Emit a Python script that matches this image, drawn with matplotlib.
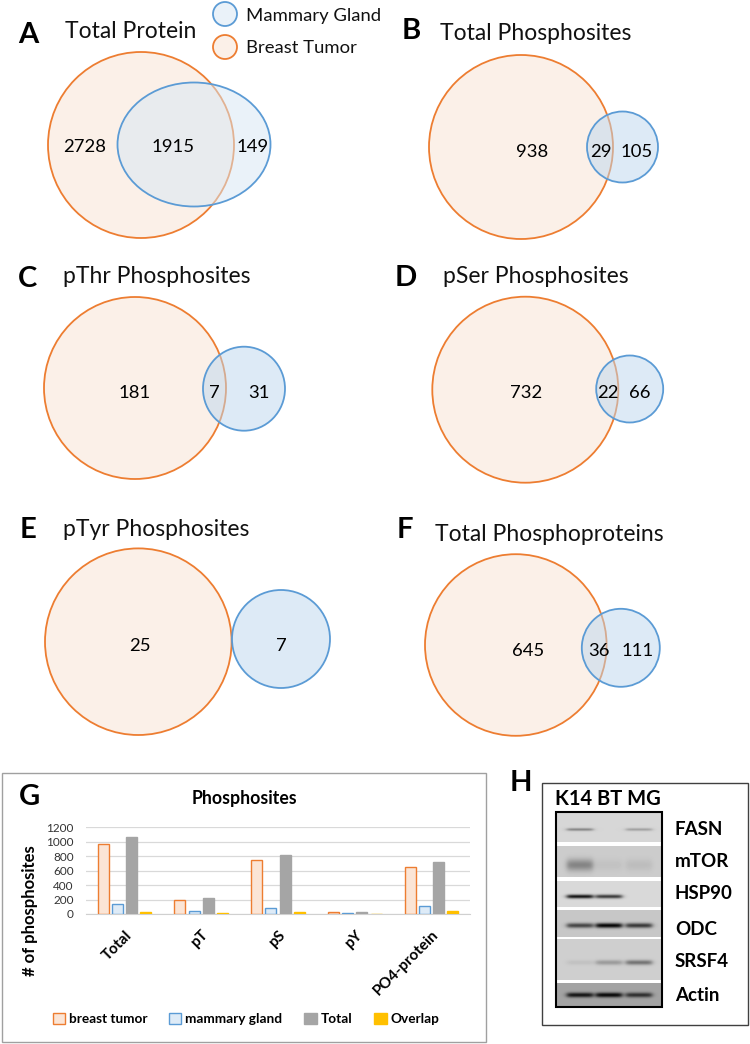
import numpy as np
import matplotlib
matplotlib.use('Agg')
import matplotlib.pyplot as plt
from matplotlib.patches import Circle, Ellipse, Rectangle

plt.rcParams['font.family'] = ['Lato', 'DejaVu Sans']

# Venn panels A-F
venn_letters = ['A', 'B', 'C', 'D', 'E', 'F']
venn_titles = ['Total Protein', 'Total Phosphosites', 'pThr Phosphosites',
               'pSer Phosphosites', 'pTyr Phosphosites', 'Total Phosphoproteins']
tumor_only = [2728, 938, 181, 732, 25, 645]
overlap = [1915, 29, 7, 22, 0, 36]
gland_only = [149, 105, 31, 66, 7, 111]
legend_names = ['Mammary Gland', 'Breast Tumor']

# Panel G bar chart
bar_categories = ['Total', 'pT', 'pS', 'pY', 'PO4-protein']
bar_series = ['breast tumor', 'mammary gland', 'Total', 'Overlap']
bt_counts = [967, 188, 754, 25, 645]
mg_counts = [134, 38, 88, 7, 111]
total_counts = [1072, 219, 820, 32, 720]
overlap_counts = [29, 7, 22, 0, 36]

# Panel H western blot (band darkness per lane, 0 = none)
blot_lanes = ['K14', 'BT', 'MG']
blot_proteins = ['FASN', 'mTOR', 'HSP90', 'ODC', 'SRSF4', 'Actin']
blot_background = [0.84, 0.80, 0.85, 0.78, 0.81, 0.64]
blot_bands = [[0.30, 0.00, 0.20],
              [0.28, 0.04, 0.06],
              [0.75, 0.60, 0.00],
              [0.50, 0.75, 0.55],
              [0.05, 0.20, 0.35],
              [0.55, 0.60, 0.45]]

# colours
tumor_edge = '#ED7D31'
tumor_fill = '#FBF0E8'
gland_edge = '#5B9BD5'

# layout in pixels (x, y from top-left)
venn_layout = [
    dict(letter=(18, 43.3), title=(65, 38.3), tumor=(141, 145, 93), gland=(194, 144.5, 153, 124),
         lab_x=(85, 173, 253), lab_y=151.7, gfill='#D7E7F5'),
    dict(letter=(402, 39.3), title=(440, 40), tumor=(521, 147, 92), gland=(622.5, 147, 71, 71),
         lab_x=(531.7, 600.7, 636.7), lab_y=157.3, gfill='#BDD7EF'),
    dict(letter=(18, 286.7), title=(63, 283.3), tumor=(135, 388, 91), gland=(244, 388.7, 82, 84),
         lab_x=(134.3, 214.3, 259.3), lab_y=398.3, gfill='#BDD7EF'),
    dict(letter=(395, 286), title=(443, 283.3), tumor=(525.3, 389.7, 93), gland=(629.7, 389, 67, 67),
         lab_x=(526, 608.3, 640), lab_y=397.7, gfill='#BDD7EF'),
    dict(letter=(20, 538.3), title=(63, 536), tumor=(138.3, 641.7, 93.3), gland=(281, 639, 98, 98),
         lab_x=(140, None, 281), lab_y=650.7, gfill='#BDD7EF'),
    dict(letter=(397, 538.3), title=(435, 541), tumor=(515.8, 645, 90.8), gland=(620.8, 647.8, 78, 78),
         lab_x=(527.7, 599, 637.3), lab_y=655.7, gfill='#BDD7EF'),
]

fig = plt.figure(figsize=(7.5, 10.44), dpi=100)
ax = fig.add_axes([0, 0, 1, 1])
ax.set_xlim(0, 750)
ax.set_ylim(1044, 0)
ax.axis('off')

for i, lay in enumerate(venn_layout):
    ox, oy, orad = lay['tumor']
    bx, by, bw, bh = lay['gland']
    ax.add_patch(Circle((ox, oy), orad, facecolor=tumor_fill, edgecolor=tumor_edge, lw=1.3))
    ax.add_patch(Ellipse((bx, by), bw, bh, facecolor=lay['gfill'], alpha=0.5, edgecolor='none'))
    ax.add_patch(Ellipse((bx, by), bw, bh, facecolor='none', edgecolor=gland_edge, lw=1.3))
    ax.text(*lay['letter'], venn_letters[i], fontsize=21, fontweight='bold', va='baseline', ha='left')
    ax.text(*lay['title'], venn_titles[i], fontsize=16.5, va='baseline', ha='left', color='#111111')
    counts = [tumor_only[i], overlap[i], gland_only[i]]
    for x, n in zip(lay['lab_x'], counts):
        if x is None:
            continue
        ax.text(x, lay['lab_y'], str(n), fontsize=13.3, ha='center', va='baseline')

# legend of panel A
ax.add_patch(Circle((225, 14), 12, facecolor='#D7E7F5', alpha=0.5, edgecolor='none'))
ax.add_patch(Circle((225, 14), 12, facecolor='none', edgecolor=gland_edge, lw=1.3))
ax.add_patch(Circle((225, 47), 12, facecolor=tumor_fill, edgecolor=tumor_edge, lw=1.3))
ax.text(246, 20.7, legend_names[0], fontsize=13.3, va='baseline', color='#111111')
ax.text(246, 53.3, legend_names[1], fontsize=13.3, va='baseline', color='#111111')

# panel G
ax.add_patch(Rectangle((1.7, 773.3), 484.3, 268.4, fill=False, edgecolor='#A0A0A0', lw=1))
ax.text(19, 805, 'G', fontsize=21, fontweight='bold', va='baseline')
ax.text(244, 804.3, 'Phosphosites', fontsize=12.7, fontweight='bold', ha='center', va='baseline')

gax = fig.add_axes([86 / 750, 1 - 914 / 1044, 384 / 750, 86.7 / 1044])
gax.set_facecolor('none')
x = np.arange(len(bar_categories))
series = [bt_counts, mg_counts, total_counts, overlap_counts]
fills = ['#FBE5D6', '#DEEBF7', '#A5A5A5', '#FFC000']
edges = [tumor_edge, gland_edge, '#A5A5A5', '#FFC000']
for j, vals in enumerate(series):
    gax.bar(x + (j - 1.5) * 0.185, vals, width=0.145, color=fills[j], edgecolor=edges[j],
            linewidth=1, label=bar_series[j], zorder=3)
gax.set_xlim(-0.5, 4.5)
gax.set_ylim(0, 1200)
gax.set_yticks(range(0, 1201, 200))
gax.grid(axis='y', color='#D9D9D9', lw=0.9, zorder=0)
gax.set_axisbelow(True)
for s in ['top', 'right', 'left']:
    gax.spines[s].set_visible(False)
gax.spines['bottom'].set_color('#D0D0D0')
gax.tick_params(length=0)
gax.tick_params(axis='y', labelsize=8.5, pad=9, labelcolor='#333333')
gax.set_xticks(x)
gax.set_xticklabels(bar_categories, rotation=45, ha='right', rotation_mode='anchor',
                    fontweight='bold', fontsize=11)
gax.tick_params(axis='x', pad=10)
gax.set_ylabel('# of phosphosites', fontsize=12, fontweight='bold')
gax.yaxis.set_label_coords(-0.124, 0.035)
gax.legend(loc='center', bbox_to_anchor=(246 / 750, 1 - 1019 / 1044), bbox_transform=fig.transFigure,
           ncol=4, frameon=False, prop={'weight': 'bold', 'size': 9.8}, handlelength=0.9,
           handleheight=0.9, handletextpad=0.3, columnspacing=1.6)

# panel H
ax.add_patch(Rectangle((542.3, 782.7), 206, 242.3, fill=False, edgecolor='#404040', lw=1))
ax.text(510, 790.7, 'H', fontsize=21, fontweight='bold', va='baseline')
ax.text(555, 805, ' '.join(blot_lanes), fontsize=14.5, fontweight='bold', va='baseline')

strip_edges = [(811.7, 841.7), (845.7, 877.3), (880.7, 907.3), (910, 936.7), (939.3, 980), (983.3, 1006.7)]
band_y = [(829.5, 1.5), (865, 6), (896.5, 2), (925.5, 2.5), (962.5, 2.5), (995, 2.5)]
lane_x = [580, 609, 639]
label_base = [835, 866.7, 899, 935, 967.3, 1000.7]
bx0, bx1, by0, by1 = 556, 663, 812, 1007
xs = np.arange(bx0, bx1) + 0.5
ys = np.arange(by0, by1) + 0.5
img = np.ones((len(ys), len(xs)))
for k, (y0, y1) in enumerate(strip_edges):
    rows = (ys >= y0) & (ys < y1)
    strip = np.full((rows.sum(), len(xs)), blot_background[k])
    yc, sy = band_y[k]
    py = np.exp(-((ys[rows] - yc) / sy) ** 2)[:, None]
    for j, d in enumerate(blot_bands[k]):
        px = 0.5 * (np.tanh((xs - (lane_x[j] - 13)) / 3) - np.tanh((xs - (lane_x[j] + 13)) / 3))
        strip = strip - d * py * px[None, :]
    img[rows] = np.clip(strip, 0, 1)
    ax.text(675, label_base[k], blot_proteins[k], fontsize=13.5, fontweight='bold', va='baseline')
ax.imshow(img, cmap='gray', vmin=0, vmax=1, extent=(bx0, bx1, by1, by0), origin='upper',
          aspect='auto', interpolation='bilinear', zorder=1)
ax.add_patch(Rectangle((555.7, 811.7), 106.6, 195, fill=False, edgecolor='black', lw=1.5, zorder=2))
ax.set_xlim(0, 750)
ax.set_ylim(1044, 0)

fig.savefig('out.png', dpi=100)
